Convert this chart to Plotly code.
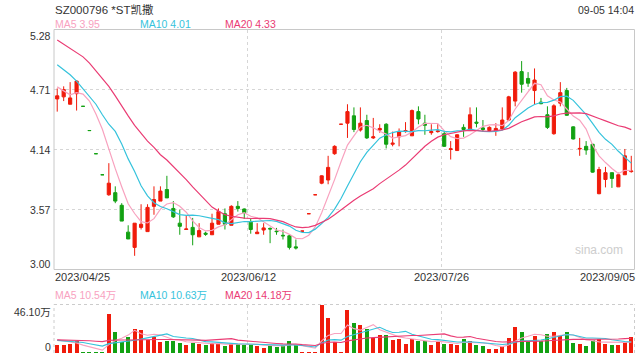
import plotly.graph_objects as go

# ---------------- data ----------------
opens = [4.62, 4.64, 4.57, 4.67, 4.55, 4.32, 4.10, 3.90, 3.71, 3.73,
         3.61, 3.355, 3.21, 3.40, 3.36, 3.60, 3.65, 3.76, 3.58, 3.44,
         3.38, 3.40, 3.31, 3.345, 3.33, 3.43, 3.53, 3.42, 3.60, 3.575,
         3.45, 3.34, 3.375, 3.39, 3.365, 3.325, 3.32, 3.215, 3.365, 3.53,
         3.71, 3.82, 3.85, 4.10, 4.38, 4.39, 4.46, 4.325, 4.415, 4.25,
         4.325, 4.38, 4.19, 4.26, 4.31, 4.27, 4.50, 4.39, 4.30, 4.31,
         4.29, 4.14, 4.13, 4.35, 4.32, 4.40, 4.345, 4.32, 4.32, 4.335,
         4.42, 4.60, 4.88, 4.815, 4.70, 4.59, 4.47, 4.29, 4.58, 4.70,
         4.355, 4.145, 4.17, 4.19, 3.72, 3.855, 3.92, 3.785, 3.90, 3.93]
closes = [4.65, 4.71, 4.63, 4.79, 4.55, 4.32, 4.10, 3.90, 3.82, 3.65,
          3.46, 3.29, 3.44, 3.43, 3.59, 3.665, 3.745, 3.68, 3.50, 3.41,
          3.385, 3.33, 3.37, 3.335, 3.44, 3.55, 3.43, 3.60, 3.58, 3.54,
          3.38, 3.355, 3.395, 3.385, 3.36, 3.32, 3.21, 3.205, 3.365, 3.53,
          3.71, 3.89, 3.97, 4.17, 4.38, 4.50, 4.33, 4.39, 4.25, 4.26,
          4.34, 4.19, 4.20, 4.31, 4.32, 4.51, 4.43, 4.37, 4.31, 4.315,
          4.17, 4.146, 4.28, 4.33, 4.47, 4.39, 4.33, 4.35, 4.34, 4.42,
          4.64, 4.875, 4.76, 4.77, 4.80, 4.575, 4.35, 4.555, 4.68, 4.465,
          4.24, 4.15, 4.135, 3.925, 3.95, 3.92, 3.865, 3.90, 4.08, 3.935]
highs = [4.72, 4.74, 4.78, 4.80, 4.55, 4.32, 4.10, 3.90, 4.01, 3.79,
         3.63, 3.42, 3.44, 3.62, 3.62, 3.79, 3.79, 3.89, 3.65, 3.57,
         3.51, 3.49, 3.44, 3.36, 3.53, 3.58, 3.58, 3.61, 3.65, 3.58,
         3.49, 3.44, 3.44, 3.40, 3.395, 3.38, 3.33, 3.285, 3.365, 3.53,
         3.71, 3.895, 4.08, 4.18, 4.38, 4.57, 4.54, 4.54, 4.47, 4.44,
         4.38, 4.39, 4.31, 4.34, 4.40, 4.52, 4.55, 4.47, 4.38, 4.38,
         4.31, 4.22, 4.285, 4.38, 4.54, 4.54, 4.42, 4.36, 4.39, 4.54,
         4.65, 4.885, 4.98, 4.875, 4.91, 4.63, 4.55, 4.57, 4.78, 4.725,
         4.36, 4.25, 4.22, 4.19, 3.975, 3.975, 3.92, 3.92, 4.145, 4.08]
lows = [4.50, 4.60, 4.57, 4.51, 4.55, 4.32, 4.10, 3.90, 3.70, 3.63,
        3.46, 3.29, 3.13, 3.38, 3.36, 3.52, 3.65, 3.68, 3.49, 3.33,
        3.38, 3.23, 3.31, 3.32, 3.33, 3.43, 3.38, 3.42, 3.55, 3.48,
        3.34, 3.34, 3.33, 3.25, 3.33, 3.285, 3.19, 3.19, 3.365, 3.53,
        3.71, 3.81, 3.81, 4.09, 4.38, 4.25, 4.305, 4.31, 4.24, 4.24,
        4.30, 4.15, 4.17, 4.17, 4.30, 4.27, 4.38, 4.28, 4.28, 4.30,
        4.165, 4.045, 4.13, 4.26, 4.32, 4.35, 4.31, 4.315, 4.27, 4.33,
        4.41, 4.55, 4.68, 4.735, 4.57, 4.57, 4.335, 4.28, 4.55, 4.46,
        4.235, 4.08, 4.09, 3.92, 3.715, 3.78, 3.775, 3.785, 3.90, 3.92]
# volume, in 万 shares
volumes = [8.3, 7.7, 9.2, 11.7, 0.5, 0.5, 0.5, 0.5, 37.8, 20.0,
           11.4, 15.4, 23.0, 22.0, 12.9, 16.0, 11.4, 11.7, 12.3, 10.1,
           7.7, 10.1, 8.6, 7.7, 10.1, 9.2, 6.8, 9.2, 8.6, 7.7,
           8.6, 6.8, 5.5, 7.7, 6.1, 7.7, 11.7, 7.7, 1.5, 1.0,
           1.0, 46.1, 33.8, 10.8, 1.0, 41.5, 28.6, 26.7, 23.0, 15.0,
           17.5, 17.5, 12.9, 13.8, 9.2, 13.8, 11.7, 11.7, 7.7, 11.7,
           9.2, 8.6, 7.7, 13.8, 11.7, 7.7, 6.8, 4.6, 4.6, 6.8,
           14.8, 25.5, 20.0, 12.3, 16.3, 12.3, 19.0, 20.0, 16.3, 20.0,
           10.1, 9.2, 6.8, 12.9, 13.8, 9.2, 8.3, 8.3, 10.8, 15.4]

# moving-average values at the left edge (they depend on days before the window)
ma5_head = [4.735, 4.70, 4.66, 4.68]
ma10_head = [4.945, 4.90, 4.85, 4.79, 4.72, 4.65, 4.57, 4.47, 4.38]
ma20_head = [5.18, 5.14, 5.10, 5.06, 5.02, 4.96, 4.89, 4.82, 4.74, 4.65,
             4.55, 4.46, 4.37, 4.29, 4.22, 4.16, 4.09, 4.04, 3.98]
vma5_head = [12.5, 11.5, 10.5, 9.5]
vma10_head = [12.0, 11.6, 11.2, 10.8, 10.0, 8.8, 7.6, 6.6, 8.9]
vma20_head = [12.5, 12.4, 12.3, 12.2, 12.0, 11.6, 11.2, 10.8, 12.0, 12.4,
              12.3, 12.4, 12.6, 12.8, 12.8, 12.9, 12.8, 12.8, 12.8]

date_labels = ["2023/04/25", "2023/06/12", "2023/07/26", "2023/09/05"]
price_ticks = [5.28, 4.71, 4.14, 3.57, 3.00]
price_tick_text = ["5.28", "4.71", "4.14", "3.57", "3.00"]
vol_max = 46.10
vol_tick_text = ["46.10万", "0"]
title_text = "SZ000796 *ST凯撒"
time_text = "09-05 14:04"
ma_legend = ["MA5 3.95", "MA10 4.01", "MA20 4.33"]
vol_legend = ["MA5 10.54万", "MA10 10.63万", "MA20 14.18万"]

# ---------------- styling ----------------
RED = "#f01b0b"
GREEN = "#12a112"
C_MA5 = "#f8a2bf"
C_MA10 = "#36c3dc"
C_MA20 = "#ea3c74"
GRID = "#d6d6d6"
FONT = "Liberation Sans, Arial, Noto Sans CJK SC, sans-serif"

W, H = 640, 360

N = len(closes)
xs = list(range(N))


def moving_avg(vals, n, head):
    out = list(head)
    for i in range(n - 1, len(vals)):
        out.append(sum(vals[i - n + 1:i + 1]) / n)
    return out


ma5 = moving_avg(closes, 5, ma5_head)
ma10 = moving_avg(closes, 10, ma10_head)
ma20 = moving_avg(closes, 20, ma20_head)
vma5 = moving_avg(volumes, 5, vma5_head)
vma10 = moving_avg(volumes, 10, vma10_head)
vma20 = moving_avg(volumes, 20, vma20_head)

bar_colors = []
for i in range(N):
    if closes[i] > opens[i]:
        up = True
    elif closes[i] < opens[i]:
        up = False
    else:
        up = i == 0 or closes[i] >= closes[i - 1]
    bar_colors.append(RED if up else GREEN)


def px(xp):
    return xp / float(W)


def py(yp):
    return 1 - yp / float(H)


XL, XR = px(54), px(634.5)

fig = go.Figure()
fig.add_trace(go.Candlestick(
    x=xs, open=opens, high=highs, low=lows, close=closes,
    increasing=dict(line=dict(color=RED, width=1), fillcolor=RED),
    decreasing=dict(line=dict(color=GREEN, width=1), fillcolor=GREEN),
    whiskerwidth=0, hoverinfo="skip", xaxis="x", yaxis="y"))
for vals, col in [(ma5, C_MA5), (ma10, C_MA10), (ma20, C_MA20)]:
    fig.add_trace(go.Scatter(x=xs, y=vals, mode="lines",
                             line=dict(color=col, width=1.2),
                             hoverinfo="skip", xaxis="x", yaxis="y"))

fig.add_trace(go.Bar(x=xs, y=volumes, marker=dict(color=bar_colors, line=dict(width=0)),
                     width=0.62, hoverinfo="skip", xaxis="x2", yaxis="y2"))
for vals, col in [(vma5, C_MA5), (vma10, C_MA10), (vma20, C_MA20)]:
    fig.add_trace(go.Scatter(x=xs, y=vals, mode="lines",
                             line=dict(color=col, width=1.1),
                             hoverinfo="skip", xaxis="x2", yaxis="y2"))

xgrid = [(N / 3.0) - 0.5, (2 * N / 3.0) - 0.5]
common_x = dict(domain=[XL, XR], range=[-0.5, N - 0.5], tickvals=xgrid,
                showticklabels=False, ticks="", showgrid=True, griddash="dot",
                gridcolor=GRID, gridwidth=1, zeroline=False, showline=False,
                fixedrange=True)
fig.update_layout(
    width=W, height=H,
    margin=dict(l=0, r=0, t=0, b=0),
    paper_bgcolor="white", plot_bgcolor="white",
    showlegend=False, hovermode=False,
    font=dict(family=FONT, size=11, color="#333333"),
    xaxis=dict(anchor="y", rangeslider=dict(visible=False), **common_x),
    yaxis=dict(domain=[py(269.5), py(29.5)], range=[3.00, 5.28],
               tickvals=price_ticks[1:4], showticklabels=False, ticks="",
               showgrid=True, griddash="dot", gridcolor=GRID, zeroline=False,
               showline=False, fixedrange=True),
    xaxis2=dict(anchor="y2", **common_x),
    yaxis2=dict(domain=[py(353), py(304.5)], range=[0, vol_max],
                showticklabels=False, ticks="", showgrid=False, zeroline=False,
                showline=False, fixedrange=True),
    bargap=0,
)

shapes = [
    dict(type="rect", xref="x domain", yref="y domain", x0=0, x1=1, y0=0, y1=1,
         line=dict(color="#c8c8c8", width=1)),
    dict(type="line", xref="x2 domain", yref="y2 domain", x0=0, x1=1, y0=1, y1=1,
         line=dict(color="#cccccc", width=1, dash="dot")),
    dict(type="line", xref="x2 domain", yref="y2 domain", x0=0, x1=0, y0=0, y1=1,
         line=dict(color="#cccccc", width=1, dash="dot")),
    dict(type="line", xref="x2 domain", yref="y2 domain", x0=1, x1=1, y0=0, y1=1,
         line=dict(color="#cccccc", width=1, dash="dot")),
]
fig.update_layout(shapes=shapes)

anns = []


def ann(text, x, y, xanchor="left", yanchor="middle", color="#333333", size=11):
    anns.append(dict(text=text, x=px(x), y=py(y), xref="paper", yref="paper",
                     xanchor=xanchor, yanchor=yanchor, showarrow=False,
                     borderpad=0, borderwidth=0,
                     font=dict(family=FONT, size=size, color=color)))


ann(title_text, 55, 9, size=11.5)
ann(time_text, 634, 9.5, xanchor="right", size=10.5)
for txt, xp, col in zip(ma_legend, [55, 140, 225], [C_MA5, C_MA10, C_MA20]):
    ann(txt, xp, 24, color=col, size=10.5)
for txt, xp, col in zip(vol_legend, [55, 140, 225], [C_MA5, C_MA10, C_MA20]):
    ann(txt, xp, 295, color=col, size=10.5)

# price axis labels
for val, txt in zip(price_ticks, price_tick_text):
    ya = "middle"
    if val == price_ticks[0]:
        ya = "top"
    elif val == price_ticks[-1]:
        ya = "bottom"
    anns.append(dict(text=txt, x=px(51), y=val, xref="paper", yref="y",
                     xanchor="right", yanchor=ya, showarrow=False,
                     borderpad=0, borderwidth=0,
                     font=dict(family=FONT, size=10.5, color="#333333")))
# volume axis labels
anns.append(dict(text=vol_tick_text[0], x=px(51), y=vol_max, xref="paper", yref="y2",
                 xanchor="right", yanchor="top", showarrow=False, yshift=-1,
                 borderpad=0, borderwidth=0,
                 font=dict(family=FONT, size=10.5, color="#333333")))
anns.append(dict(text=vol_tick_text[1], x=px(51), y=0, xref="paper", yref="y2",
                 xanchor="right", yanchor="bottom", showarrow=False,
                 borderpad=0, borderwidth=0,
                 font=dict(family=FONT, size=10.5, color="#333333")))

# date labels
ann(date_labels[0], 55, 277, xanchor="left")
ann(date_labels[1], 248, 277, xanchor="center")
ann(date_labels[2], 441.5, 277, xanchor="center")
ann(date_labels[3], 634.5, 277, xanchor="right")

ann("sina.com", 623, 249.5, xanchor="right", color="#cdcdcd", size=12)

fig.update_layout(annotations=anns)
fig.write_html("out.html", config={"displayModeBar": False},
               post_script="document.body.style.margin='0';"
                           "document.body.style.overflow='hidden';")
